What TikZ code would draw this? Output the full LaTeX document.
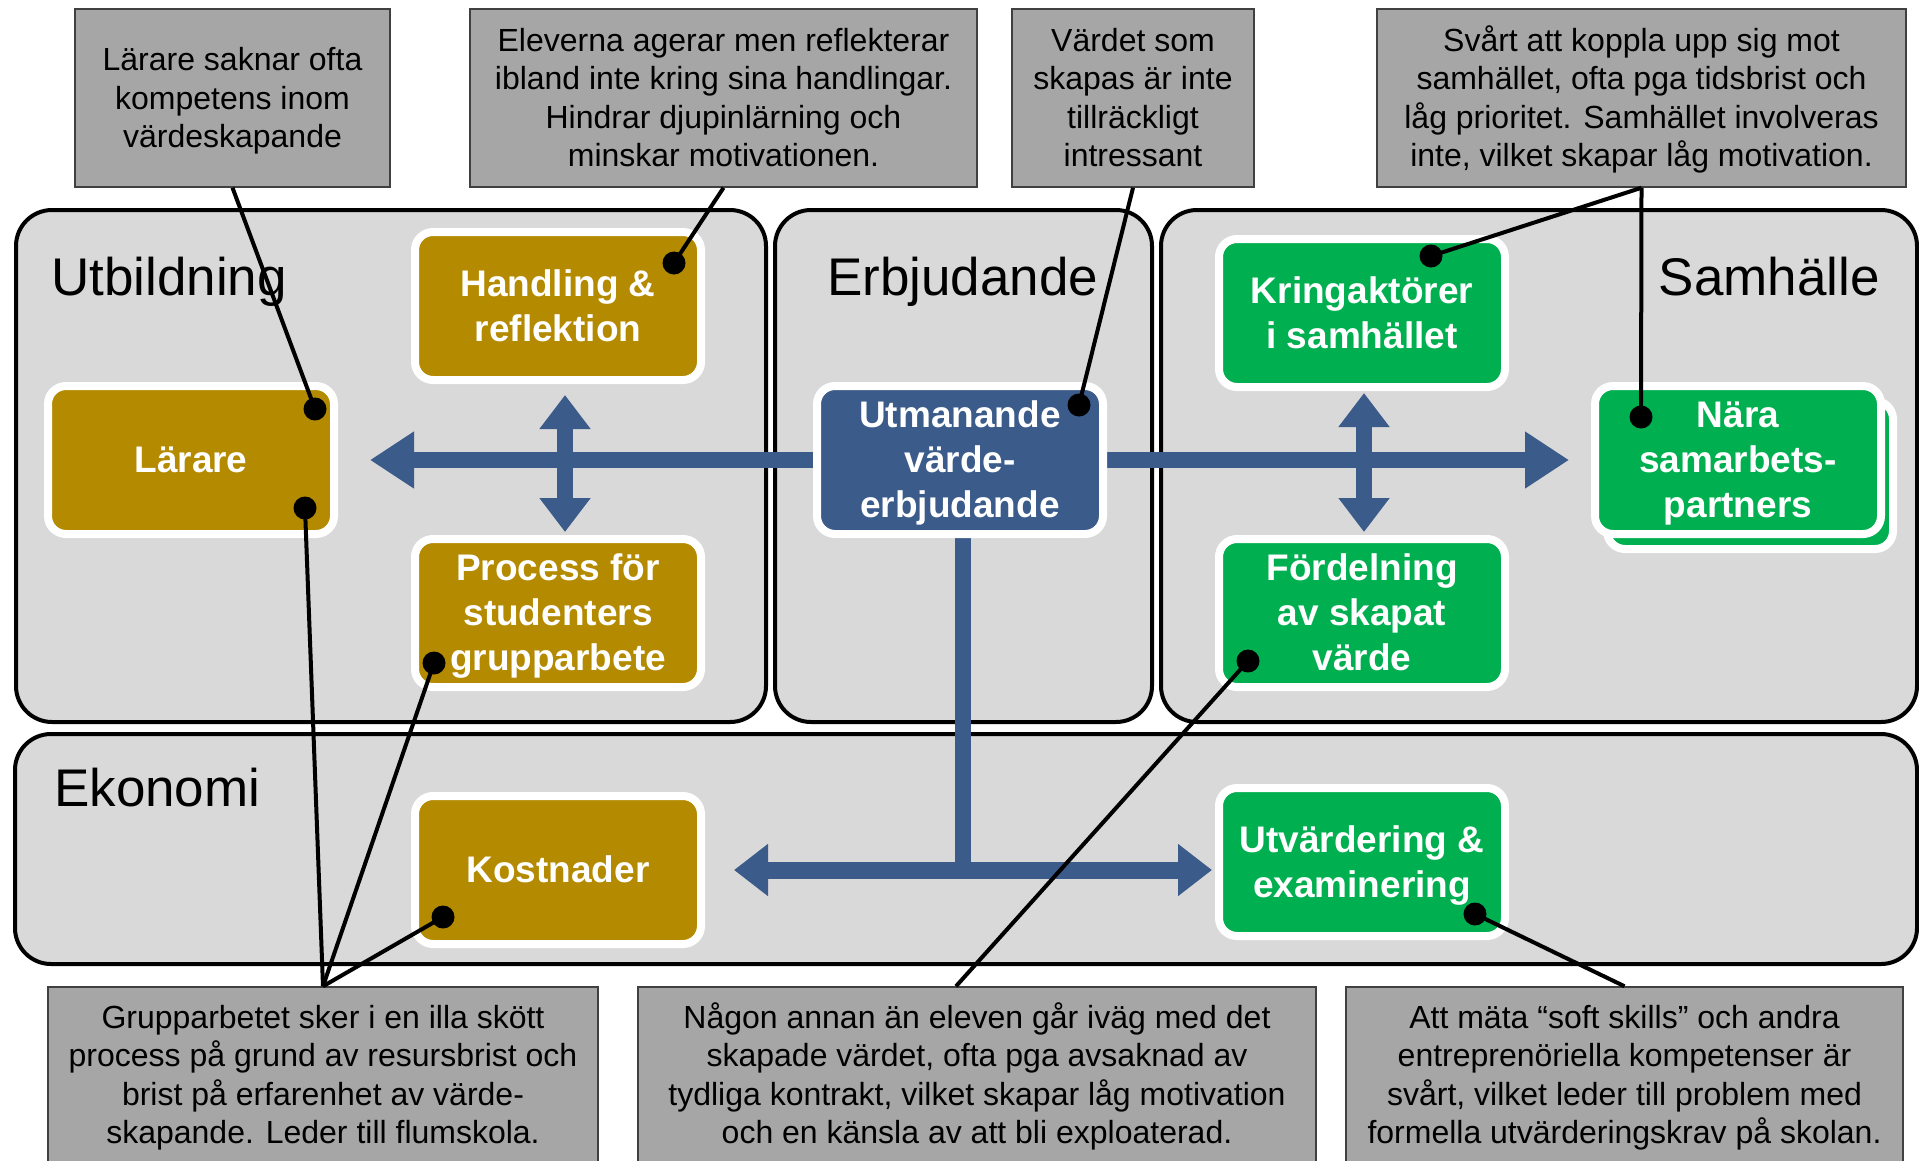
\documentclass[tikz,border=0pt]{standalone}
\usepackage{fontspec}
\setmainfont{Liberation Sans}
\usetikzlibrary{arrows.meta}
\definecolor{gold}{RGB}{180,138,0}
\definecolor{grn}{RGB}{0,176,80}
\definecolor{blu}{RGB}{59,91,138}
\definecolor{panelgray}{RGB}{217,217,217}
\definecolor{callgray}{RGB}{166,166,166}
\newcommand{\ps}{\rule[-0.212em]{0pt}{1.117em}}
\pgfdeclarelayer{panels}
\pgfdeclarelayer{arrowlayer}
\pgfdeclarelayer{top}
\pgfsetlayers{panels,arrowlayer,main,top}
\begin{document}
\begin{tikzpicture}[x=1pt,y=-1pt,
 panel/.style={draw=black, line width=4pt, fill=panelgray, rounded corners=36pt},
 ptitle/.style={anchor=base west, inner sep=0pt, font=\fontsize{53}{60}\selectfont},
 box/.style={draw=white, line width=8pt, rounded corners=18pt, minimum width=286pt, minimum height=148pt, align=center, text=white, font=\fontsize{37}{45}\selectfont\bfseries, inner sep=0pt},
 goldbox/.style={box, fill=gold},
 greenbox/.style={box, fill=grn},
 bluebox/.style={box, fill=blu},
 callout/.style={draw=black!75, line width=1.5pt, fill=callgray, align=center, font=\fontsize{32}{38.5}\selectfont, inner sep=0pt},
 dot/.style={circle, fill=black, minimum size=23pt, inner sep=0pt},
 link/.style={line width=4pt, draw=black},
 mainarrow/.style={draw=blu, line width=16pt, {Triangle[length=44pt,width=54pt]}-{Triangle[length=44pt,width=54pt]}},
 vertarrow/.style={draw=blu, line width=16pt, {Triangle[length=34pt,width=49pt]}-{Triangle[length=34pt,width=49pt]}},
 botarrow/.style={draw=blu, line width=17pt, {Triangle[length=34pt,width=50pt]}-{Triangle[length=34pt,width=50pt]}},
 stem/.style={draw=blu, line width=16pt},
]
\useasboundingbox (0,0) rectangle (1919,1160);
\begin{pgfonlayer}{panels}
\fill[white] (0,0) rectangle (1919,1160);
\draw[panel] (16,210) rectangle (766,722);
\draw[panel] (775,210) rectangle (1152,722);
\draw[panel] (1161,210) rectangle (1917,722);
\draw[panel] (15,734) rectangle (1917,964);
\end{pgfonlayer}

% panel titles
\node[ptitle] (tutb) at (51,295) {Utbildning};
\node[ptitle] (terb) at (827,295) {Erbjudande};
\node[ptitle, anchor=base east] (tsam) at (1880,295) {Samhälle};
\node[ptitle] (teko) at (54,806) {Ekonomi};

% boxes
\node[goldbox] (handling) at (558,306) {\ps Handling \&\\reflektion\ps};
\node[goldbox] (larare) at (191,460) {\ps Lärare\ps};
\node[goldbox] (process) at (558,613) {\ps Process för\\studenters\\grupparbete\ps};
\node[bluebox] (utm) at (960,460) {\ps Utmanande\\värde-\\erbjudande\ps};
\node[greenbox] (kring) at (1362,313) {\ps Kringaktörer\\i samhället\ps};
\node[greenbox] (ford) at (1362,613) {\ps Fördelning\\av skapat\\värde\ps};
\node[greenbox] (naraback) at (1750,475) {};
\node[greenbox] (nara) at (1738,460) {\ps Nära\\samarbets-\\partners\ps};
\node[goldbox] (kost) at (558,870) {\ps Kostnader\ps};
\node[greenbox] (utv) at (1362,862) {\ps Utvärdering \&\\examinering\ps};

% arrows
\begin{pgfonlayer}{arrowlayer}
\draw[mainarrow, shorten <=32pt, shorten >=22pt] (larare.east) -- (nara.west);
\draw[vertarrow, shorten <=11pt, shorten >=3pt] ([xshift=7pt]handling.south) -- ([xshift=7pt]process.north);
\draw[vertarrow, shorten <=2pt, shorten >=3pt] ([xshift=2pt]kring.south) -- ([xshift=2pt]ford.north);
\draw[stem] ([xshift=2.5pt]utm.south) -- ([xshift=2.5pt]utm.south |- kost.east);
\draw[botarrow, shorten <=29pt, shorten >=3pt] (kost.east) -- (kost.east -| utv.west);
\end{pgfonlayer}

% callouts
\node[callout, minimum width=315pt, minimum height=178pt] (c1) at (232.5,98) {\ps Lärare saknar ofta\\kompetens inom\\värdeskapande\ps};
\node[callout, minimum width=507pt, minimum height=178pt] (c2) at (723.5,98) {\ps Eleverna agerar men reflekterar\\ibland inte kring sina handlingar.\\Hindrar djupinlärning och\\minskar motivationen.\ps};
\node[callout, minimum width=242pt, minimum height=178pt] (c3) at (1133,98) {\ps Värdet som\\skapas är inte\\tillräckligt\\intressant\ps};
\node[callout, minimum width=529pt, minimum height=178pt] (c4) at (1641.5,98) {\ps Svårt att koppla upp sig mot\\samhället, ofta pga tidsbrist och\\låg prioritet. Samhället involveras\\inte, vilket skapar låg motivation.\ps};
\node[callout, minimum width=550pt, minimum height=176pt] (b1) at (323,1075) {\ps Grupparbetet sker i en illa skött\\process på grund av resursbrist och\\brist på erfarenhet av värde-\\skapande. Leder till flumskola.\ps};
\node[callout, minimum width=678pt, minimum height=176pt] (b2) at (977,1075) {\ps Någon annan än eleven går iväg med det\\skapade värdet, ofta pga avsaknad av\\tydliga kontrakt, vilket skapar låg motivation\\och en känsla av att bli exploaterad.\ps};
\node[callout, minimum width=557pt, minimum height=176pt] (b3) at (1624.5,1075) {\ps Att mäta “soft skills” och andra\\entreprenöriella kompetenser är\\svårt, vilket leder till problem med\\formella utvärderingskrav på skolan.\ps};

\begin{pgfonlayer}{top}
\node[dot] (d1) at (315,409) {};
\node[dot] (d2) at (674,263) {};
\node[dot] (d3) at (1079,405) {};
\node[dot] (d4) at (1431,256) {};
\node[dot] (d5) at (1641,417) {};
\node[dot] (d6) at (305,508) {};
\node[dot] (d7) at (434,663) {};
\node[dot] (d8) at (443,917) {};
\node[dot] (d9) at (1248,661) {};
\node[dot] (d10) at (1475,914) {};
\draw[link] (c1.south) -- (d1.center);
\draw[link] (c2.south) -- (d2.center);
\draw[link] (c3.south) -- (d3.center);
\draw[link] (c4.south) -- (d4.center);
\draw[link] (c4.south) -- (d5.center);
\draw[link] (b1.north) -- (d6.center);
\draw[link] (b1.north) -- (d7.center);
\draw[link] (b1.north) -- (d8.center);
\draw[link] ([xshift=-21pt]b2.north) -- (d9.center);
\draw[link] (b3.north) -- (d10.center);
\end{pgfonlayer}
\end{tikzpicture}
\end{document}
